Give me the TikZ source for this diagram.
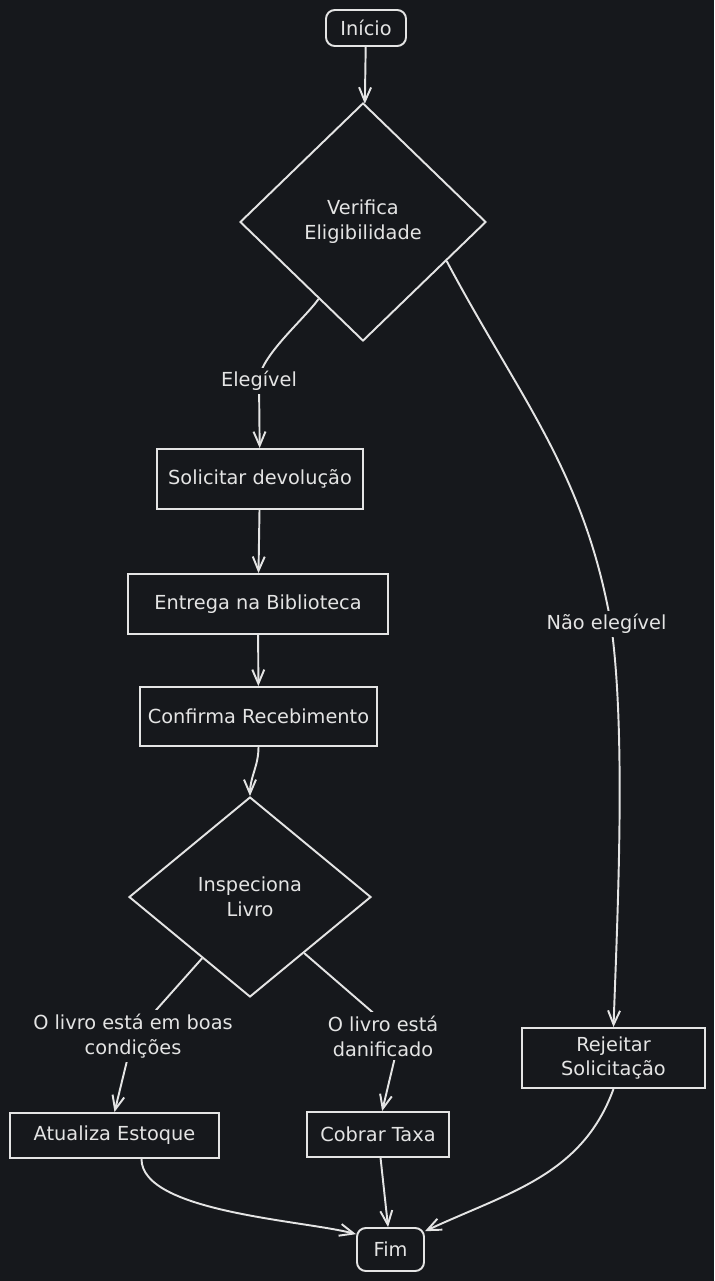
\documentclass[tikz,border=0pt]{standalone}
\usepackage{fontspec}
\setmainfont{DejaVu Sans}
\usepackage{tikz}
\usetikzlibrary{shapes,arrows.meta}
\definecolor{canvasbg}{RGB}{22,24,28}
\definecolor{inkgray}{RGB}{228,228,228}

\begin{document}
\begin{tikzpicture}[
    font=\fontsize{11}{14.2}\selectfont,
    box/.style={rectangle, draw=inkgray, line width=1.1pt, text=inkgray, align=center,
                minimum height=1.2cm, inner sep=2pt},
    term/.style={box, rounded corners=5pt, minimum width=1.6cm, minimum height=0.72cm},
    choice/.style={diamond, draw=inkgray, line width=1.1pt, text=inkgray, align=center, inner sep=0pt},
    lbl/.style={fill=canvasbg, text=inkgray, align=center, inner sep=2pt},
    arrow/.style={-{Straight Barb[length=0.28cm, width=0.24cm]}, line width=1.1pt, inkgray}
]

\fill[canvasbg] (0,0) rectangle (14.28,-25.62);

\node[term] (start) at (7.32,-0.56) {Início};
\node[choice, minimum width=4.92cm, minimum height=4.76cm] (verify) at (7.26,-4.44) {Verifica\\Eligibilidade};
\node[box, minimum width=4.12cm] (solicit) at (5.2,-9.58) {Solicitar devolução};
\node[box, minimum width=5.2cm] (deliver) at (5.16,-12.08) {Entrega na Biblioteca};
\node[box, minimum width=4.74cm, minimum height=1.18cm] (confirm) at (5.17,-14.33) {Confirma Recebimento};
\node[choice, minimum width=4.84cm, minimum height=4cm] (inspect) at (5.0,-17.94) {Inspeciona\\Livro};
\node[box, minimum width=4.18cm, minimum height=0.9cm] (stock) at (2.29,-22.71) {Atualiza Estoque};
\node[box, minimum width=2.84cm, minimum height=0.9cm] (fee) at (7.56,-22.69) {Cobrar Taxa};
\node[box, minimum width=3.66cm] (reject) at (12.27,-21.16) {Rejeitar\\Solicitação};
\node[term, minimum width=1.34cm, minimum height=0.86cm] (fin) at (7.81,-24.99) {Fim};

\draw[arrow] (start) -- (verify);
\draw[arrow] (verify.-120) to[out=-125,in=90,looseness=0.6] (5.18,-7.62) node[lbl] {Elegível} -- (solicit);
\draw[arrow] (verify.-25) to[out=-62,in=100] (12.22,-12.48) node[lbl, xshift=-0.09cm] {Não elegível}
    to[out=-82,in=88,looseness=0.7] (reject.north);
\draw[arrow] (solicit) -- (deliver);
\draw[arrow] (deliver) -- (confirm);
\draw[arrow] (confirm.south) to[out=-90,in=90] (inspect.north);
\draw[arrow] (inspect.-128) -- (2.66,-20.72) node[lbl] {O livro está em boas\\condições} -- (stock.north);
\draw[arrow] (inspect.-46) -- (8.0,-20.72) node[lbl, xshift=-0.34cm] {O livro está\\danificado} -- (fee.80);
\draw[arrow] (stock.-41) to[out=-90,in=165,looseness=0.6] (fin.156);
\draw[arrow] (fee) -- (fin);
\draw[arrow] (reject.south) to[out=-110,in=25] (fin.28);

\end{tikzpicture}
\end{document}
